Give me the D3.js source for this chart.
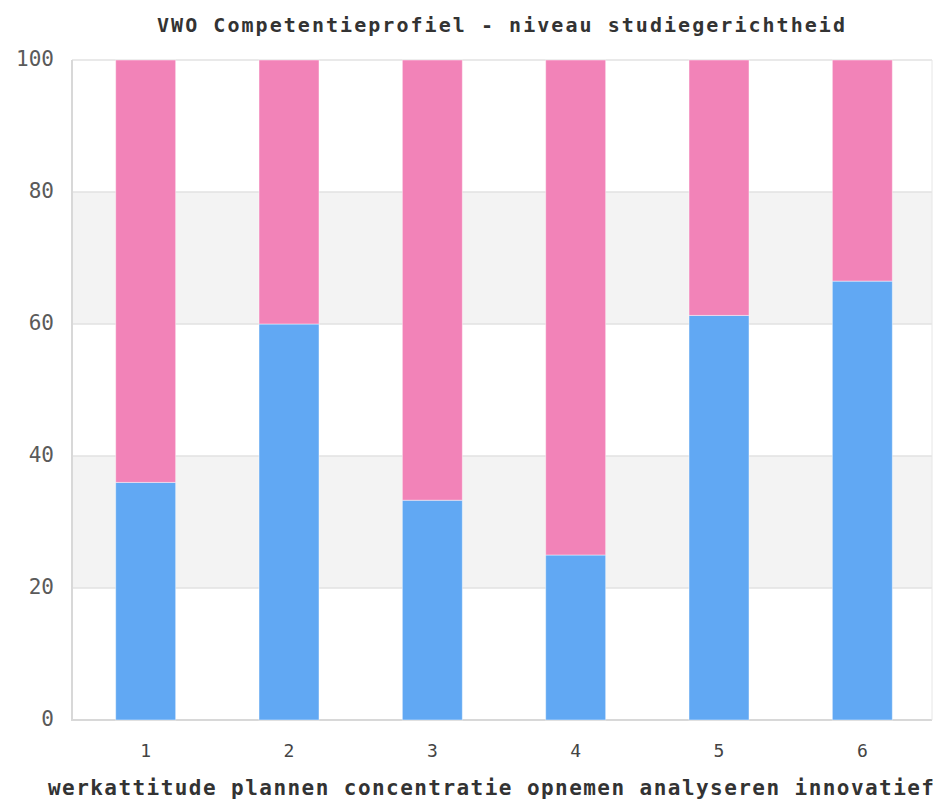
<!DOCTYPE html>
<html lang="nl">
<head>
    <meta charset="UTF-8">
    <title>VWO Competentieprofiel</title>
    <style>
        body {
            margin: 0;
            padding: 0;
            background-color: #ffffff;
        }
        text {
            font-family: "DejaVu Sans Mono", monospace;
        }
    </style>
    <script src="https://d3js.org/d3.v7.min.js"></script>
</head>
<body>
    <div id="vis"></div>
    <script>
        // gegevens
        const categories = ["1", "2", "3", "4", "5", "6"];
        const competenties = ["werkattitude", "plannen", "concentratie", "opnemen", "analyseren", "innovatief"];
        const blauw = [36, 60, 33.3, 25, 61.3, 66.5];
        const roze = blauw.map(v => 100 - v);
        const yTicks = [0, 20, 40, 60, 80, 100];
        const title = "VWO Competentieprofiel - niveau studiegerichtheid";

        const width = 933, height = 800;
        const svg = d3.select("#vis")
            .append("svg")
            .attr("width", width)
            .attr("height", height);

        const plot = {left: 72, right: 932, top: 60, bottom: 720};

        const x = d3.scaleBand()
            .domain(categories)
            .range([74, 934]);
        const y = d3.scaleLinear()
            .domain([0, 100])
            .range([plot.bottom, plot.top]);

        // grijze banden
        svg.selectAll("rect.band")
            .data([[20, 40], [60, 80]])
            .enter().append("rect")
            .attr("class", "band")
            .attr("x", plot.left)
            .attr("width", plot.right - plot.left)
            .attr("y", d => y(d[1]))
            .attr("height", d => y(d[0]) - y(d[1]))
            .attr("fill", "#f3f3f3");

        // rasterlijnen
        svg.selectAll("line.grid")
            .data(yTicks)
            .enter().append("line")
            .attr("class", "grid")
            .attr("x1", plot.left)
            .attr("x2", plot.right)
            .attr("y1", d => y(d))
            .attr("y2", d => y(d))
            .attr("stroke", d => d === 0 ? "#d8d8d8" : "#e2e2e2")
            .attr("stroke-width", d => d === 0 ? 2 : 1.5);

        svg.append("line")
            .attr("x1", plot.left).attr("x2", plot.left)
            .attr("y1", plot.top).attr("y2", plot.bottom + 1)
            .attr("stroke", "#d8d8d8").attr("stroke-width", 2);
        svg.append("line")
            .attr("x1", plot.right).attr("x2", plot.right)
            .attr("y1", plot.top).attr("y2", plot.bottom)
            .attr("stroke", "#e6e6e6").attr("stroke-width", 1);

        // gestapelde staven
        const barW = 60;
        const stacked = categories.map((c, i) => ({cat: c, blauw: blauw[i], roze: roze[i]}));
        const series = d3.stack().keys(["blauw", "roze"])(stacked);
        const kleuren = {blauw: "#61a8f3", roze: "#f283b8"};

        svg.selectAll("g.serie")
            .data(series)
            .enter().append("g")
            .attr("class", "serie")
            .attr("fill", d => kleuren[d.key])
            .selectAll("rect")
            .data(d => d)
            .enter().append("rect")
            .attr("x", d => x(d.data.cat) + x.bandwidth() / 2 - barW / 2)
            .attr("width", barW)
            .attr("y", d => y(d[1]))
            .attr("height", d => y(d[0]) - y(d[1]))
            .attr("stroke", "rgba(255,255,255,0.45)")
            .attr("stroke-width", 1);

        // y-as labels
        svg.selectAll("text.ytick")
            .data(yTicks)
            .enter().append("text")
            .attr("class", "ytick")
            .attr("x", 54)
            .attr("y", d => y(d))
            .attr("dy", "0.3em")
            .attr("text-anchor", "end")
            .attr("font-size", 21)
            .attr("fill", "#5a5a5a")
            .text(d => d);

        // x-as labels
        svg.selectAll("text.xtick")
            .data(categories)
            .enter().append("text")
            .attr("class", "xtick")
            .attr("x", d => x(d) + x.bandwidth() / 2)
            .attr("y", 757)
            .attr("text-anchor", "middle")
            .attr("font-size", 18)
            .attr("fill", "#444")
            .text(d => d);

        svg.append("text")
            .attr("x", 48)
            .attr("y", 795)
            .attr("font-size", 21)
            .attr("font-weight", "bold")
            .attr("fill", "#333")
            .attr("textLength", 886)
            .attr("lengthAdjust", "spacing")
            .text(competenties.join(" "));

        // titel
        svg.append("text")
            .attr("x", 157)
            .attr("y", 32)
            .attr("font-size", 20)
            .attr("font-weight", "bold")
            .attr("fill", "#333")
            .attr("textLength", 688)
            .attr("lengthAdjust", "spacing")
            .text(title);
    </script>
</body>
</html>
